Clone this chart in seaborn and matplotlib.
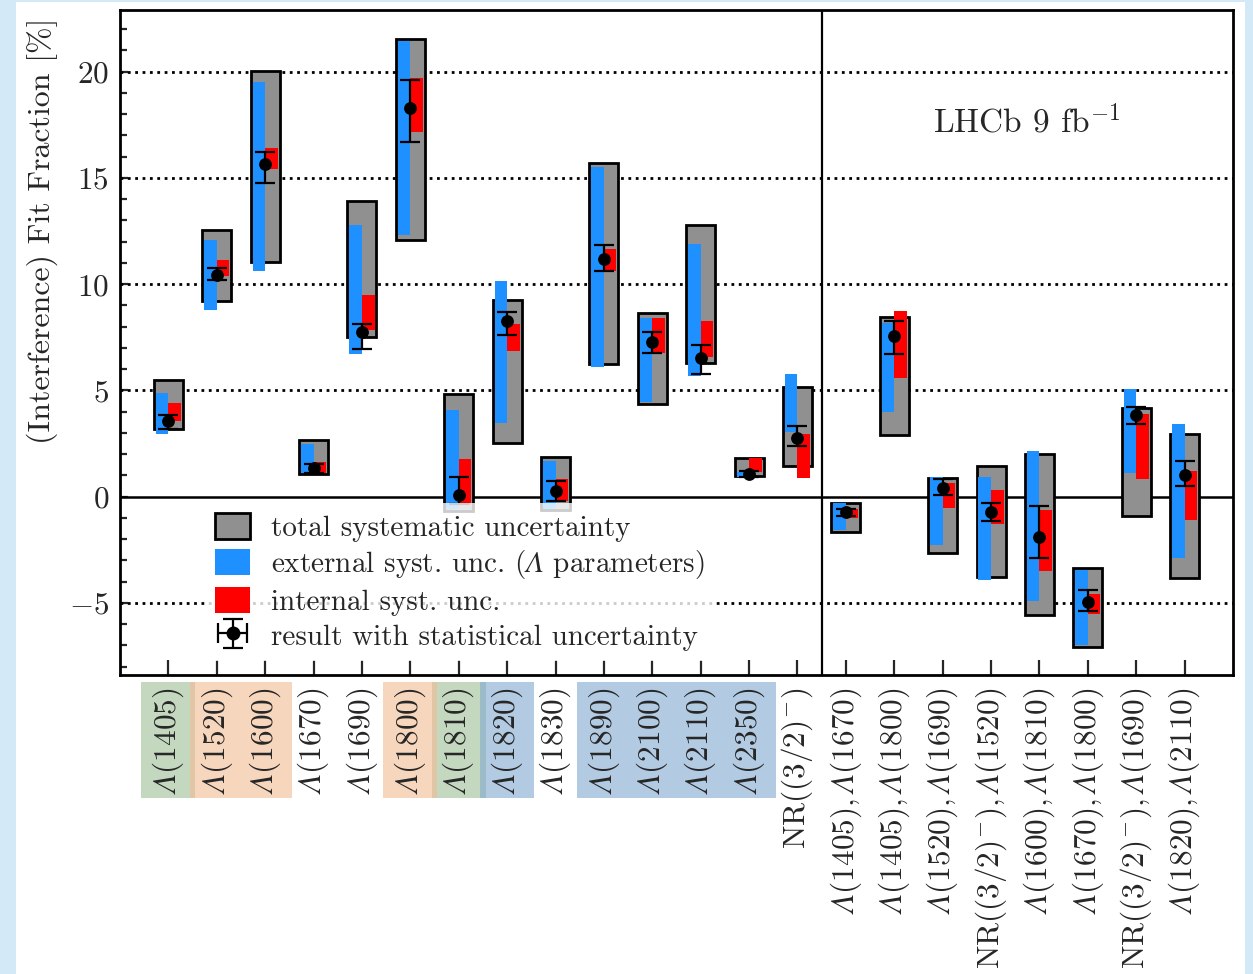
import numpy as np
import pandas as pd
import matplotlib
matplotlib.use("Agg")
import matplotlib.pyplot as plt
import seaborn as sns
from matplotlib.patches import Patch, Rectangle
from matplotlib.ticker import MultipleLocator
import matplotlib.transforms as mtransforms

# ---------------- data ----------------
categories = [
    r"$\mathsf{Λ}(1405)$", r"$\mathsf{Λ}(1520)$", r"$\mathsf{Λ}(1600)$", r"$\mathsf{Λ}(1670)$",
    r"$\mathsf{Λ}(1690)$", r"$\mathsf{Λ}(1800)$", r"$\mathsf{Λ}(1810)$", r"$\mathsf{Λ}(1820)$",
    r"$\mathsf{Λ}(1830)$", r"$\mathsf{Λ}(1890)$", r"$\mathsf{Λ}(2100)$", r"$\mathsf{Λ}(2110)$",
    r"$\mathsf{Λ}(2350)$", r"$\mathrm{NR}((3/2)^{-})$",
    r"$\mathsf{Λ}(1405),\mathsf{Λ}(1670)$", r"$\mathsf{Λ}(1405),\mathsf{Λ}(1800)$",
    r"$\mathsf{Λ}(1520),\mathsf{Λ}(1690)$", r"$\mathrm{NR}((3/2)^{-}),\mathsf{Λ}(1520)$",
    r"$\mathsf{Λ}(1600),\mathsf{Λ}(1810)$", r"$\mathsf{Λ}(1670),\mathsf{Λ}(1800)$",
    r"$\mathrm{NR}((3/2)^{-}),\mathsf{Λ}(1690)$", r"$\mathsf{Λ}(1820),\mathsf{Λ}(2110)$",
]

central = [3.55, 10.43, 15.65, 1.33, 7.75, 18.29, 0.06, 8.28, 0.25, 11.19, 7.28,
           6.53, 1.08, 2.76, -0.72, 7.55, 0.39, -0.72, -1.9, -4.97, 3.84, 0.99]
stat_hi = [3.83, 10.78, 16.20, 1.54, 8.13, 19.59, 0.91, 8.69, 0.71, 11.86, 7.75,
           7.12, 1.22, 3.31, -0.60, 8.24, 0.81, -0.32, -0.45, -4.39, 4.22, 1.66]
stat_lo = [3.17, 10.18, 14.78, 1.11, 6.95, 16.67, -0.33, 7.59, -0.20, 10.60, 6.76,
           5.79, 0.94, 2.37, -0.92, 6.73, 0.06, -1.13, -2.90, -5.41, 3.43, 0.50]

total_lo = [3.20, 9.22, 11.03, 1.07, 7.51, 12.06, -0.69, 2.53, -0.64, 6.24, 4.36,
            6.29, 0.96, 1.43, -1.67, 2.89, -2.65, -3.79, -5.59, -7.10, -0.91, -3.85]
total_hi = [5.47, 12.56, 20.01, 2.65, 13.93, 21.54, 4.83, 9.27, 1.87, 15.72, 8.64,
            12.78, 1.82, 5.16, -0.29, 8.44, 0.86, 1.46, 2.00, -3.38, 4.19, 2.92]

ext_lo = [2.92, 8.80, 10.60, 1.13, 6.73, 12.33, -0.60, 3.47, -0.60, 6.08, 4.45,
          5.69, 0.91, 3.04, -1.59, 3.99, -2.27, -3.92, -4.92, -6.98, 1.11, -2.91]
ext_hi = [4.86, 12.09, 19.53, 2.48, 12.80, 21.44, 4.05, 10.13, 1.69, 15.50, 8.40,
          11.89, 1.14, 5.77, -0.29, 8.19, 0.94, 0.94, 2.13, -3.45, 5.06, 3.43]

int_lo = [3.54, 10.37, 15.42, 1.13, 7.86, 17.14, -0.40, 6.84, -0.20, 10.60, 6.76,
          6.57, 1.15, 0.88, -0.99, 5.57, -0.52, -1.31, -3.49, -5.55, 0.83, -1.12]
int_hi = [4.42, 11.15, 16.42, 1.63, 9.50, 19.70, 1.76, 8.13, 0.83, 11.66, 8.40,
          8.28, 1.82, 2.96, -0.61, 8.75, 0.66, 0.31, -0.64, -4.60, 3.90, 1.21]

grid_values = [-5, 5, 10, 15, 20]
yticks_major = 5

# highlighted tick-label groups (category indices)
green_groups = [[0], [6]]
orange_groups = [[1, 2], [5]]
blue_groups = [[7], [9, 10, 11, 12]]

legend_labels = ["total systematic uncertainty",
                 r"external syst. unc. ($\mathsf{Λ}$ parameters)",
                 "internal syst. unc.",
                 "result with statistical uncertainty"]

df = pd.DataFrame({
    "x": np.arange(len(categories)),
    "central": central, "stat_lo": stat_lo, "stat_hi": stat_hi,
    "total_lo": total_lo, "total_hi": total_hi,
    "ext_lo": ext_lo, "ext_hi": ext_hi, "int_lo": int_lo, "int_hi": int_hi,
})

# ---------------- style ----------------
sns.set_theme(style="ticks")
plt.rcParams.update({
    "font.family": ["cmr10", "STIXGeneral", "DejaVu Serif"],
    "mathtext.fontset": "custom",
    "mathtext.rm": "cmr10",
    "mathtext.it": "cmmi10",
    "mathtext.sf": "STIXGeneral:italic",
    "axes.formatter.use_mathtext": True,
    "font.size": 22,
    "axes.unicode_minus": True,
})

GRAY = "#909090"
BLUE = "#1e90ff"
RED = "#ff0000"
BG = "#d4e9f7"

W, H = 1253, 974
fig = plt.figure(figsize=(W / 100, H / 100), dpi=100, facecolor=BG)
fig.patches.append(Rectangle((16 / W, 0), (1245 - 16) / W, 972 / H,
                             transform=fig.transFigure, facecolor="white",
                             edgecolor="none", zorder=-10))
ax = fig.add_axes([120 / W, 1 - 675 / H, 1113 / W, 665 / H])
ax.set_facecolor("white")

x = df["x"].to_numpy()

# total systematic boxes
ax.bar(x, df["total_hi"] - df["total_lo"], bottom=df["total_lo"], width=0.6,
       color=GRAY, edgecolor="black", linewidth=2.0, zorder=2)
# external (left half)
ax.bar(x, df["ext_hi"] - df["ext_lo"], bottom=df["ext_lo"], width=-0.26,
       align="edge", color=BLUE, edgecolor="none", zorder=3)
# internal (right half)
ax.bar(x, df["int_hi"] - df["int_lo"], bottom=df["int_lo"], width=0.26,
       align="edge", color=RED, edgecolor="none", zorder=3)

# statistical error bars + central values
yerr = np.vstack([df["central"] - df["stat_lo"], df["stat_hi"] - df["central"]])
ax.errorbar(x, df["central"], yerr=yerr, fmt="none", ecolor="black",
            elinewidth=1.6, capsize=7, capthick=1.6, zorder=4)
sns.scatterplot(data=df, x="x", y="central", ax=ax, color="black", s=85,
                edgecolor="black", linewidth=0, zorder=5, legend=False)

# legend handle for result (with horizontal + vertical error)
h_res = ax.errorbar([np.nan], [np.nan], xerr=[[0.3], [0.3]], yerr=[[1], [1]], fmt="o",
                    color="black", ms=9, elinewidth=1.6, capsize=7, capthick=1.6)

# reference lines
for gv in grid_values:
    ax.axhline(gv, color="black", linestyle=":", linewidth=2.0, zorder=1)
ax.axhline(0, color="black", linewidth=1.8, zorder=1.5)
ax.axvline(13.5, color="black", linewidth=1.6, zorder=1.5)

ax.set_xlim(-1, 22)
ax.set_ylim(-8.4, 22.9)
ax.yaxis.set_major_locator(MultipleLocator(yticks_major))
ax.yaxis.set_minor_locator(MultipleLocator(1))
ax.set_xticks(x)
ax.set_xticklabels(categories, rotation=90, ha="center", va="top")
ax.tick_params(axis="y", which="major", direction="in", length=6, width=1.6,
               left=True, right=False, pad=8, labelsize=22.5)
ax.tick_params(axis="y", which="minor", direction="in", length=5, width=1.6,
               left=True, right=False)
ax.tick_params(axis="x", which="major", direction="in", length=11, width=1.6,
               bottom=True, top=False, pad=9, labelsize=22.5)
ax.tick_params(axis="x", which="minor", bottom=False, top=False)
for s in ax.spines.values():
    s.set_linewidth(2.0)
    s.set_color("black")

ax.set_xlabel("")
ax.set_ylabel("(Interference) Fit Fraction [%]", fontsize=23)
ax.yaxis.set_label_coords(-0.056, 0.668)

ax.text(0.815, 0.832, r"LHCb 9 fb$^{-1}$", transform=ax.transAxes,
        ha="center", va="center", fontsize=24)

# highlight boxes behind tick labels
trans = mtransforms.blended_transform_factory(ax.transData, ax.transAxes)
y0, y1 = (675 - 798) / 665, (675 - 682) / 665
for groups, col in [(green_groups, "#9ebe96"), (orange_groups, "#f3bb93"),
                    (blue_groups, "#80a8d0")]:
    for g in groups:
        ax.add_patch(Rectangle((g[0] - 0.56, y0), (g[-1] - g[0]) + 1.12, y1 - y0,
                               transform=trans, facecolor=col, edgecolor="none",
                               alpha=0.6, clip_on=False, zorder=0))

handles = [Patch(facecolor=GRAY, edgecolor="black", linewidth=2.0),
           Patch(facecolor=BLUE, edgecolor="none"),
           Patch(facecolor=RED, edgecolor="none"),
           h_res]
ax.legend(handles, legend_labels, loc="upper left", bbox_to_anchor=(0.0764, 0.2587),
          borderaxespad=0, frameon=True, framealpha=0.8, facecolor="white",
          edgecolor="none", fancybox=False, fontsize=21, handlelength=1.2,
          handleheight=1.0, handletextpad=0.7, labelspacing=0.2, borderpad=0.35)

fig.savefig("out.png", dpi=100, facecolor=BG)
